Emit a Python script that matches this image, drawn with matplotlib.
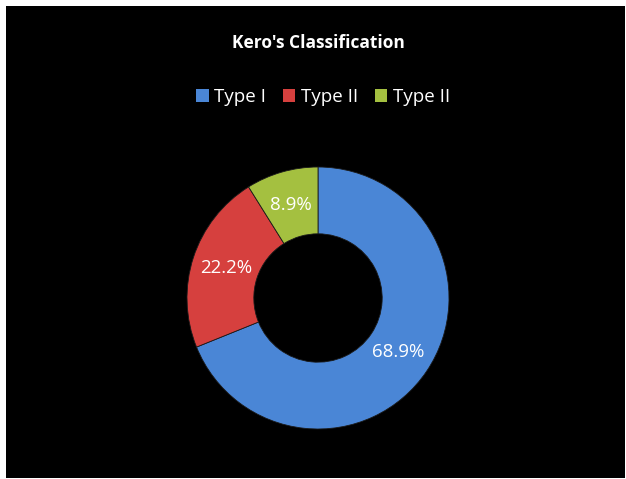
import matplotlib.pyplot as plt
from matplotlib.patches import Rectangle, Patch

# chart data
labels = ['Type I', 'Type II', 'Type II']
counts = [31, 10, 4]
colors = ['#4a86d6', '#d6403e', '#a4c040']

W, H = 626, 479
fig = plt.figure(figsize=(W / 100, H / 100), dpi=100)
fig.patch.set_facecolor('white')
# black chart area inside a thin white frame
fig.add_artist(Rectangle((6 / W, 1 / H), 619 / W, 472 / H,
                         transform=fig.transFigure, facecolor='black',
                         edgecolor='none', zorder=0))

cx, cy, r = 318, 298, 131
ax = fig.add_axes([(cx - r) / W, (H - cy - r) / H, 2 * r / W, 2 * r / H])
ax.set_facecolor('black')
wedges, texts, autotexts = ax.pie(
    counts, colors=colors, startangle=90, counterclock=False,
    autopct='%1.1f%%', pctdistance=0.74, radius=1.0,
    wedgeprops=dict(width=0.51, edgecolor='#1a1a1a', linewidth=0.6),
    textprops=dict(color='white', fontsize=13.5, family='Open Sans'))
ax.set_xlim(-1, 1)
ax.set_ylim(-1, 1)
ax.set_aspect('equal')
ax.axis('off')

fig.text(318 / W, 1 - 43 / H, "Kero's Classification", ha='center', va='center',
         color='white', fontsize=12.5, fontweight='bold', family='Open Sans')

handles = [Patch(facecolor=c, edgecolor='none') for c in colors]
leg = fig.legend(handles, labels, loc='center', bbox_to_anchor=(323 / W, 1 - 97 / H),
                 ncol=3, frameon=False, handlelength=0.65, handleheight=0.65,
                 handletextpad=0.3, columnspacing=0.9,
                 prop=dict(family='Open Sans', size=13.5))
for t in leg.get_texts():
    t.set_color('white')

fig.savefig('out.png', dpi=100, facecolor=fig.get_facecolor())
